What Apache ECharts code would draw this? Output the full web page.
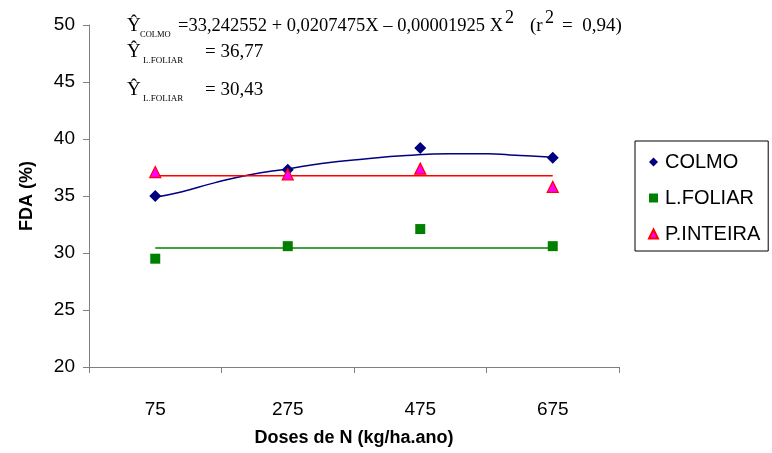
<!DOCTYPE html>
<html>
<head>
<meta charset="utf-8">
<script src="https://cdn.jsdelivr.net/npm/echarts@6/dist/echarts.min.js"></script>
<style>html,body{margin:0;padding:0;background:#fff}#c{width:772px;height:453px}</style>
</head>
<body>
<div id="c"></div>
<script>
// doses (x) and measured FDA per part
var doses=[75,275,475,675];
var doseLabels=['75','275','475','675'];
var colmo=[35.0,37.3,39.2,38.35];
var lfoliar=[29.5,30.6,32.1,30.6];
var pinteira=[37.1,36.9,37.4,35.8];
// fitted curve for COLMO
var curveX=[75,114,164,216,276,326,391,454,518,578,610,643,675];
var curveY=[34.9,35.35,36.15,36.85,37.4,37.85,38.25,38.55,38.7,38.7,38.6,38.5,38.4];
var meanP=36.77, meanL=30.43;
var yTicks={min:20,max:50,step:5};

function pairs(xs,ys){return xs.map(function(x,i){return [x,ys[i]];});}
function flat(v){return [[doses[0],v],[doses[doses.length-1],v]];}

var serif='"Liberation Serif","Times New Roman",serif';
function txt(x,y,s,size){
  return {type:'text',x:x,y:y,silent:true,style:{text:s,font:size+'px '+serif,fill:'#000',verticalAlign:'middle',align:'left'}};
}

var ch=echarts.init(document.getElementById('c'));
ch.setOption({
  animation:false,
  textStyle:{fontFamily:'"Liberation Sans",Arial,sans-serif'},
  grid:{left:89,right:153,top:25,bottom:86},
  xAxis:[
    {type:'category',data:doseLabels,boundaryGap:true,
     name:'Doses de N (kg/ha.ano)',nameLocation:'middle',nameGap:62,
     nameTextStyle:{fontSize:18,fontWeight:'bold',color:'#000'},
     axisLine:{onZero:false,lineStyle:{color:'#808080',width:1}},
     axisTick:{show:true,alignWithLabel:false,length:6,lineStyle:{color:'#808080'}},
     axisLabel:{fontSize:19,color:'#000',margin:33},
     splitLine:{show:false}},
    {type:'value',min:-25,max:775,show:false,splitLine:{show:false}}
  ],
  yAxis:{type:'value',min:yTicks.min,max:yTicks.max,interval:yTicks.step,
    name:'FDA (%)',nameLocation:'middle',nameGap:53,
    nameTextStyle:{fontSize:18,fontWeight:'bold',color:'#000'},
    axisLine:{show:true,onZero:false,lineStyle:{color:'#808080',width:1}},
    axisTick:{show:true,length:6,lineStyle:{color:'#808080'}},
    axisLabel:{fontSize:19,color:'#000',margin:14},
    splitLine:{show:false}},
  legend:{orient:'vertical',left:635,top:141,data:['COLMO','L.FOLIAR','P.INTEIRA'],
    borderColor:'#000',borderWidth:1,padding:[11,8,7,13],itemGap:16,
    itemWidth:9,itemHeight:9,textStyle:{fontSize:20,color:'#000',padding:[0,0,0,2]}},
  series:[
    {type:'line',xAxisIndex:1,data:pairs(curveX,curveY),showSymbol:false,smooth:true,
     lineStyle:{color:'#000080',width:1.5},silent:true,z:2},
    {type:'line',xAxisIndex:1,data:flat(meanP),showSymbol:false,
     lineStyle:{color:'#ff0000',width:1.5},silent:true,z:2},
    {type:'line',xAxisIndex:1,data:flat(meanL),showSymbol:false,
     lineStyle:{color:'#008000',width:1.5},silent:true,z:2},
    {name:'COLMO',type:'scatter',xAxisIndex:1,data:pairs(doses,colmo),symbol:'diamond',symbolSize:12,
     itemStyle:{color:'#000080',opacity:1},z:3},
    {name:'L.FOLIAR',type:'scatter',xAxisIndex:1,data:pairs(doses,lfoliar),symbol:'rect',symbolSize:10,
     itemStyle:{color:'#008000',opacity:1},z:3},
    {name:'P.INTEIRA',type:'scatter',xAxisIndex:1,data:pairs(doses,pinteira),symbol:'triangle',symbolSize:11,
     itemStyle:{color:'#ff00ff',borderColor:'#ff0000',borderWidth:1.2,opacity:1},z:4}
  ],
  graphic:[
    txt(127,26,'\u0176',19), txt(140,35,'COLMO',8.5),
    txt(178,26,'=33,242552 + 0,0207475X \u2013 0,00001925 X',18.5),
    txt(505,18,'2',18), txt(530,26,'(r',19), txt(545,18,'2',18), txt(562,26,'=  0,94)',19),
    txt(127,52,'\u0176',19), txt(143,61,'L.FOLIAR',9), txt(205,52,'= 36,77',19),
    txt(127,90,'\u0176',19), txt(143,99,'L.FOLIAR',9), txt(205,90,'= 30,43',19)
  ]
});
</script>
</body>
</html>
